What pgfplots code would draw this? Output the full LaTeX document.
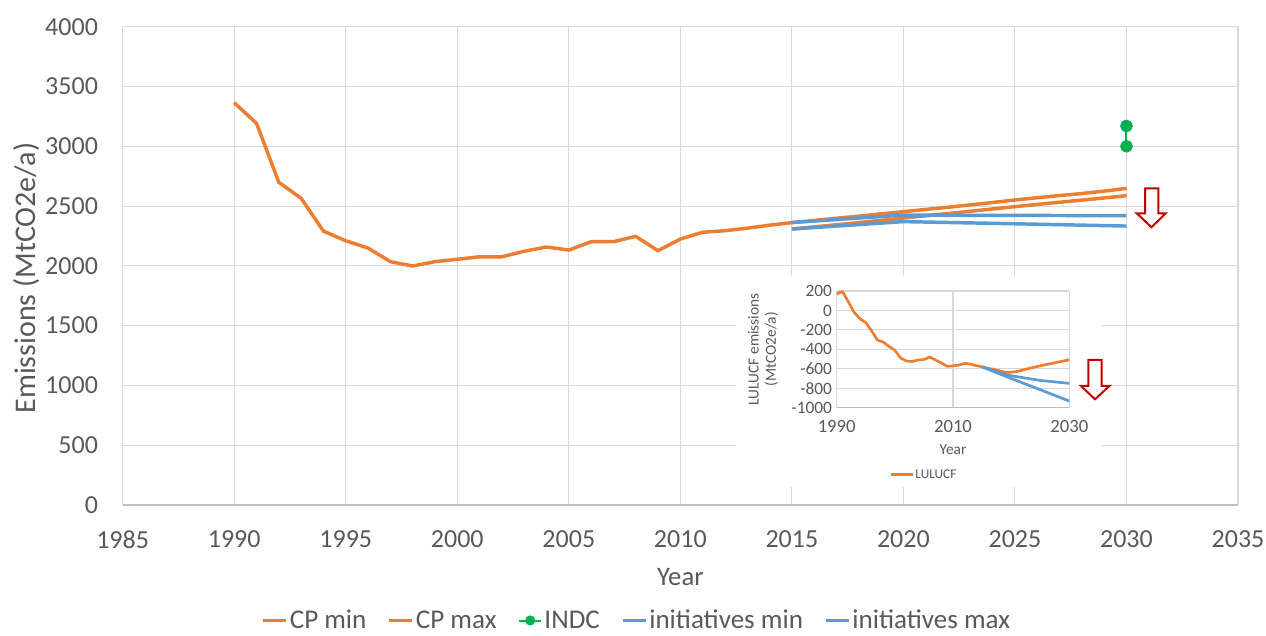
\documentclass[border=0pt]{standalone}
\usepackage{pgfplots}
\pgfplotsset{compat=1.18}
\usepackage{fontspec}
\setmainfont{Carlito}
\definecolor{cporange}{HTML}{ED7D31}
\definecolor{iblue}{HTML}{5B9BD5}
\definecolor{indcgreen}{HTML}{00B050}
\definecolor{txtgray}{HTML}{595959}
\definecolor{gridgray}{HTML}{D9D9D9}
\definecolor{axgray}{HTML}{BFBFBF}
\definecolor{arrowred}{HTML}{C00000}
\begin{document}
\begin{tikzpicture}
\useasboundingbox (0,0) rectangle (949.5pt,476.25pt);
\begin{axis}[
  scale only axis, width=836.5pt, height=358.7pt,
  at={(92pt,97.5pt)}, anchor=south west,
  xmin=1985, xmax=2035, ymin=0, ymax=4000,
  xtick distance=5, ytick distance=500,
  /pgf/number format/1000 sep={}, /pgf/number format/assume math mode=true,
  grid=major, major grid style={gridgray, line width=0.8pt},
  axis x line=bottom, axis y line=left,
  x axis line style={axgray, line width=0.8pt, -},
  y axis line style={draw=none},
  major tick length=0pt,
  tick label style={font=\fontsize{19.5}{22}\selectfont, text=txtgray},
  yticklabel style={xshift=-15pt},
  xticklabel style={yshift=-15.5pt},
  xlabel={Year}, ylabel={Emissions (MtCO2e/a)},
  every axis x label/.style={at={(axis description cs:0.5,-0.1505)}, anchor=center,
    font=\fontsize{20}{24}\selectfont, text=txtgray},
  every axis y label/.style={at={(axis description cs:-0.0858,0.4746)}, anchor=center, rotate=90,
    font=\fontsize{22.5}{26}\selectfont, text=txtgray},
  legend columns=5,
  legend style={at={(0.4611,-0.2415)}, anchor=center, draw=none, fill=none,
    font=\fontsize{20.3}{24}\selectfont, text=txtgray,
    /tikz/every even column/.append style={column sep=14.5pt},
    nodes={inner sep=1.5pt}},
  legend image code/.code={\draw[mark repeat=2, mark phase=2, #1] plot coordinates {(0pt,0pt) (8.5pt,0pt) (17pt,0pt)};},
]
\addplot[cporange, line width=2.6pt, mark=none, line join=round] coordinates {
 (2015,2308) (2016,2326) (2017,2344) (2018,2362) (2019,2381) (2020,2400)
 (2021,2419) (2022,2438) (2023,2457) (2024,2476) (2025,2495)
 (2026,2514) (2027,2532) (2028,2550) (2029,2568) (2030,2587)};
\addlegendentry{CP min}
\addplot[cporange, line width=2.6pt, mark=none, line join=round] coordinates {
 (1990,3365) (1991,3192) (1992,2699) (1993,2565) (1994,2291) (1995,2210)
 (1996,2149) (1997,2035) (1998,1999) (1999,2035) (2000,2055) (2001,2076)
 (2002,2076) (2003,2122) (2004,2158) (2005,2132) (2006,2202) (2007,2202)
 (2008,2247) (2009,2127) (2010,2224) (2011,2281) (2012,2294) (2013,2315)
 (2014,2340) (2015,2362) (2016,2380) (2017,2398) (2018,2416) (2019,2435)
 (2020,2453) (2021,2472) (2022,2490) (2023,2510) (2024,2530) (2025,2551)
 (2026,2570) (2027,2588) (2028,2605) (2029,2625) (2030,2648)};
\addlegendentry{CP max}
\addplot[indcgreen, line width=1.5pt, mark=*, mark size=4pt, mark options={fill=indcgreen, draw=indcgreen},
  legend image post style={mark size=3pt}] coordinates {(2030,3000) (2030,3170)};
\addlegendentry{INDC}
\addplot[iblue, line width=2.6pt, mark=none, line join=round] coordinates {
 (2015,2308) (2020,2370) (2025,2352) (2030,2333)};
\addlegendentry{initiatives min}
\addplot[iblue, line width=2.6pt, mark=none, line join=round] coordinates {
 (2015,2362) (2020,2425) (2025,2422) (2030,2420)};
\addlegendentry{initiatives max}
\end{axis}
\fill[white] (552pt,111pt) rectangle (826.5pt,269.25pt);
\begin{axis}[
  scale only axis, width=174.5pt, height=87.5pt,
  at={(627.5pt,170.5pt)}, anchor=south west,
  xmin=1990, xmax=2030, ymin=-1000, ymax=200,
  xtick={1990,2010,2030}, ytick distance=200,
  /pgf/number format/1000 sep={}, /pgf/number format/assume math mode=true,
  grid=major, major grid style={gridgray, line width=0.8pt},
  axis x line=bottom, axis y line=left,
  x axis line style={axgray, line width=0.8pt, -},
  y axis line style={draw=none},
  major tick length=0pt,
  yticklabel style={font=\fontsize{13}{15}\selectfont, text=txtgray},
  xticklabel style={font=\fontsize{14}{17}\selectfont, text=txtgray, yshift=-6pt},
  xlabel={Year}, ylabel={LULUCF emissions\\(MtCO2e/a)},
  every axis x label/.style={at={(axis description cs:0.5,-0.362)}, anchor=center,
    font=\fontsize{11.5}{13}\selectfont, text=txtgray},
  every axis y label/.style={at={(axis description cs:-0.3166,0.5)}, anchor=center, rotate=90,
    font=\fontsize{11.5}{13}\selectfont, text=txtgray, align=center},
  legend style={at={(0.375,-0.575)}, anchor=center, draw=none, fill=none,
    font=\fontsize{10}{12}\selectfont, text=txtgray, nodes={inner sep=1pt}},
  legend image code/.code={\draw[#1] (0pt,0pt) -- (16pt,0pt);},
]
\addplot[cporange, line width=2pt, mark=none, line join=round] coordinates {
 (1990,170) (1991,195) (1992,90) (1993,-20) (1994,-85) (1995,-125)
 (1996,-210) (1997,-305) (1998,-325) (1999,-370) (2000,-410) (2001,-490)
 (2002,-520) (2003,-525) (2004,-510) (2005,-505) (2006,-480) (2007,-510)
 (2008,-540) (2009,-575) (2010,-570) (2011,-562) (2012,-545) (2013,-552)
 (2014,-568) (2015,-580) (2016,-595) (2017,-606) (2018,-620) (2019,-637)
 (2020,-635) (2021,-628) (2022,-612) (2023,-598) (2024,-583) (2025,-570)
 (2026,-556) (2027,-545) (2028,-532) (2029,-520) (2030,-507)};
\addlegendentry{LULUCF}
\addplot[iblue, line width=2pt, mark=none, forget plot, line join=round] coordinates {
 (2015,-580) (2018,-640) (2020,-672) (2025,-720) (2030,-750)};
\addplot[iblue, line width=2pt, mark=none, forget plot, line join=round] coordinates {
 (2015,-580) (2020,-700) (2025,-815) (2030,-932)};
\end{axis}
\draw[arrowred, line width=1.5pt, fill=white, line join=miter]
  (858.75pt,335pt) -- (868.7pt,335pt) -- (868.7pt,316.3pt) -- (874.3pt,316.3pt)
  -- (863.6pt,305.8pt) -- (852.5pt,316.3pt) -- (858.75pt,316.3pt) -- cycle;
\draw[arrowred, line width=1.5pt, fill=white, line join=miter]
  (816.25pt,206.25pt) -- (826.25pt,206.25pt) -- (826.25pt,186.75pt) -- (832pt,186.75pt)
  -- (821.25pt,176.8pt) -- (810.75pt,186.75pt) -- (816.25pt,186.75pt) -- cycle;
\end{tikzpicture}
\end{document}
